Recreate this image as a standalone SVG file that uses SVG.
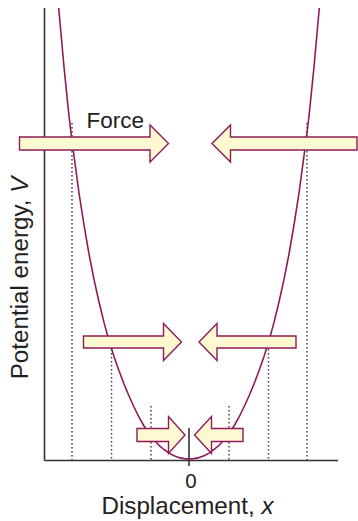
<svg xmlns="http://www.w3.org/2000/svg" width="358" height="521" viewBox="0 0 358 521">
<style>
.axis{stroke:#333;stroke-width:1.6;fill:none}
.dot{stroke:#444;stroke-width:1.5;stroke-dasharray:1.4 2.6;fill:none}
.curve{stroke:#8e1a5a;stroke-width:1.6;fill:none;stroke-linejoin:round}
.arrow{fill:#fff9d2;stroke:#8e1a5a;stroke-width:1.4;stroke-linejoin:miter}
.lbl{font-family:"Liberation Sans",Arial,sans-serif;fill:#222}
</style>
<rect width="358" height="521" fill="#fff"/>
<g id="axes">
<line class="axis" x1="44.5" y1="8" x2="44.5" y2="460.5"/>
<line class="axis" x1="44.5" y1="460.5" x2="338" y2="460.5"/>
<line class="axis" x1="189" y1="428" x2="189" y2="466"/>
</g>
<g id="levels">
<line class="dot" x1="72" y1="123" x2="72" y2="460"/>
<line class="dot" x1="307" y1="123" x2="307" y2="460"/>
<line class="dot" x1="111.5" y1="349" x2="111.5" y2="460"/>
<line class="dot" x1="268.5" y1="349" x2="268.5" y2="460"/>
<line class="dot" x1="151" y1="406" x2="151" y2="460"/>
<line class="dot" x1="229" y1="406" x2="229" y2="460"/>
</g>
<g id="curve">
<polyline class="curve" points="58.7,8 64,67 69,116 71.5,137 79,193 84,225 89,254 94,279.4 99,302 104,322.4 109,340.6 114,356.6 119,370.8 124,384 129,396 134,407 139,417.2 144,426 149,433.6 154,440 159,445.3 164,449.5 169,453.1 174,455.7 179,457.6 184,458.6 189,459 194,458.6 199,457.6 204,455.7 209,453.1 214,449.5 219,445.3 224,440 229,433.6 234,426 239,417.2 244,407 249,396 254,384 259,370.8 264,356.6 269,340.6 274,322.4 279,302 284,279.4 289,254 294,225 299,193 306.5,137 309,116 314,67 319.3,8"/>
</g>
<g id="connectors">
<polygon id="arrow-top-right" class="arrow" points="19.5,137 150,137 150,125 168.5,143.5 150,162 150,150 19.5,150"/>
<polygon id="arrow-top-left" class="arrow" points="357,137 230.5,137 230.5,125 212,143.5 230.5,162 230.5,150 357,150"/>
<polygon id="arrow-mid-right" class="arrow" points="83.5,336 163.5,336 163.5,323.5 181.5,342 163.5,360.5 163.5,348 83.5,348"/>
<polygon id="arrow-mid-left" class="arrow" points="296,336 217,336 217,323.5 199,342 217,360.5 217,348 296,348"/>
<polygon id="arrow-low-right" class="arrow" points="137,428.5 168.5,428.5 168.5,416.5 185,435 168.5,453.5 168.5,441.5 137,441.5"/>
<polygon id="arrow-low-left" class="arrow" points="243,428.5 211.5,428.5 211.5,416.5 194.5,435 211.5,453.5 211.5,441.5 243,441.5"/>
</g>
<g id="labels">
<text class="lbl" x="86.5" y="128" font-size="22.5">Force</text>
<text class="lbl" x="191" y="487.5" font-size="20.5" text-anchor="middle">0</text>
<text class="lbl" x="187.5" y="513.5" font-size="24.2" text-anchor="middle">Displacement, <tspan font-style="italic">x</tspan></text>
<text class="lbl" transform="translate(28,278) rotate(-90)" font-size="24.2" text-anchor="middle">Potential energy, <tspan font-style="italic">V</tspan></text>
</g>
</svg>
